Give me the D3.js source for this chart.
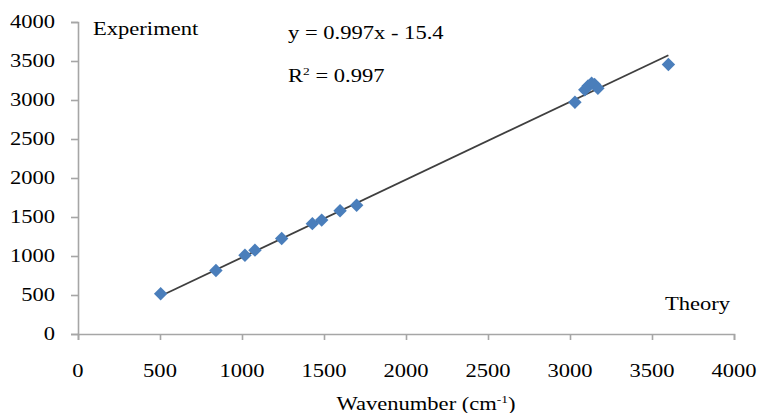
<!DOCTYPE html>
<html>
<head>
<meta charset="utf-8">
<script src="https://cdn.jsdelivr.net/npm/d3@7"></script>
<style>
  html, body { margin: 0; padding: 0; background: #fff; }
  svg { display: block; font-family: "Liberation Serif", "Times New Roman", serif; }
</style>
</head>
<body>
<div id="chart"></div>
<script>
// theory vs experiment wavenumbers (cm-1)
const theory = [504, 841, 1018, 1079, 1242, 1429, 1486, 1598, 1699, 3030, 3090, 3110, 3132, 3150, 3170, 3600];
const experiment = [515, 815, 1010, 1075, 1225, 1415, 1460, 1580, 1650, 2970, 3130, 3180, 3215, 3200, 3150, 3455];
const xTicks = [0, 500, 1000, 1500, 2000, 2500, 3000, 3500, 4000];
const yTicks = [0, 500, 1000, 1500, 2000, 2500, 3000, 3500, 4000];
const slope = 0.997;
const intercept = -15.4;

const width = 758, height = 413;
const stretch = 1.22;   // glyphs in the source are wider than normal

const svg = d3.select('#chart').append('svg')
    .attr('width', width)
    .attr('height', height);

const x = d3.scaleLinear().domain([0, 4000]).range([78, 734]);
const y = d3.scaleLinear().domain([0, 4000]).range([334, 22]);

const axisColor = '#a6a6a6';

// helper for horizontally stretched text
function label(px, py, anchor, size) {
    return svg.append('g')
        .attr('transform', `translate(${px},${py}) scale(${stretch},1)`)
        .append('text')
        .attr('text-anchor', anchor)
        .style('font-size', size + 'px')
        .attr('fill', '#000');
}

// axes
const xAxis = svg.append('g')
    .attr('transform', `translate(0,${y(0)})`)
    .call(d3.axisBottom(x).tickValues(xTicks).tickSize(6).tickFormat(''));
const yAxis = svg.append('g')
    .attr('transform', `translate(${x(0)},0)`)
    .call(d3.axisLeft(y).tickValues(yTicks).tickSize(7).tickFormat(''));
[xAxis, yAxis].forEach(a => {
    a.select('.domain').attr('stroke', axisColor).attr('stroke-width', 1.6);
    a.selectAll('.tick line').attr('stroke', axisColor).attr('stroke-width', 1.6);
});

xTicks.forEach(t => label(x(t), 377, 'middle', 18.5).text(t));
yTicks.forEach(t => label(55, y(t) + 6, 'end', 18.5).text(t));

// trend line over the data range
const x0 = d3.min(theory), x1 = d3.max(theory);
svg.append('line')
    .attr('x1', x(x0)).attr('y1', y(slope * x0 + intercept))
    .attr('x2', x(x1)).attr('y2', y(slope * x1 + intercept))
    .attr('stroke', '#3f3f3f')
    .attr('stroke-width', 1.8);

// diamond markers
const pts = theory.map((t, i) => ({ t, e: experiment[i] }));
svg.selectAll('.pt')
    .data(pts)
    .enter()
    .append('path')
    .attr('class', 'pt')
    .attr('d', d3.symbol().type(d3.symbolDiamond2).size(115))
    .attr('transform', d => `translate(${x(d.t)},${y(d.e)})`)
    .attr('fill', '#4a7ebb');

// annotations
label(93, 35, 'start', 18.5).text('Experiment');
label(288, 39, 'start', 18.5).text('y = 0.997x - 15.4');
const r2 = label(288, 82, 'start', 18.5);
r2.append('tspan').text('R');
r2.append('tspan').attr('dy', -7).style('font-size', '11px').text('2');
r2.append('tspan').attr('dy', 7).text(' = 0.997');
label(665, 310, 'start', 18.5).text('Theory');

const title = label(426, 410, 'middle', 18.5);
title.append('tspan').text('Wavenumber (cm');
title.append('tspan').attr('dy', -7).style('font-size', '11px').text('-1');
title.append('tspan').attr('dy', 7).text(')');
</script>
</body>
</html>
